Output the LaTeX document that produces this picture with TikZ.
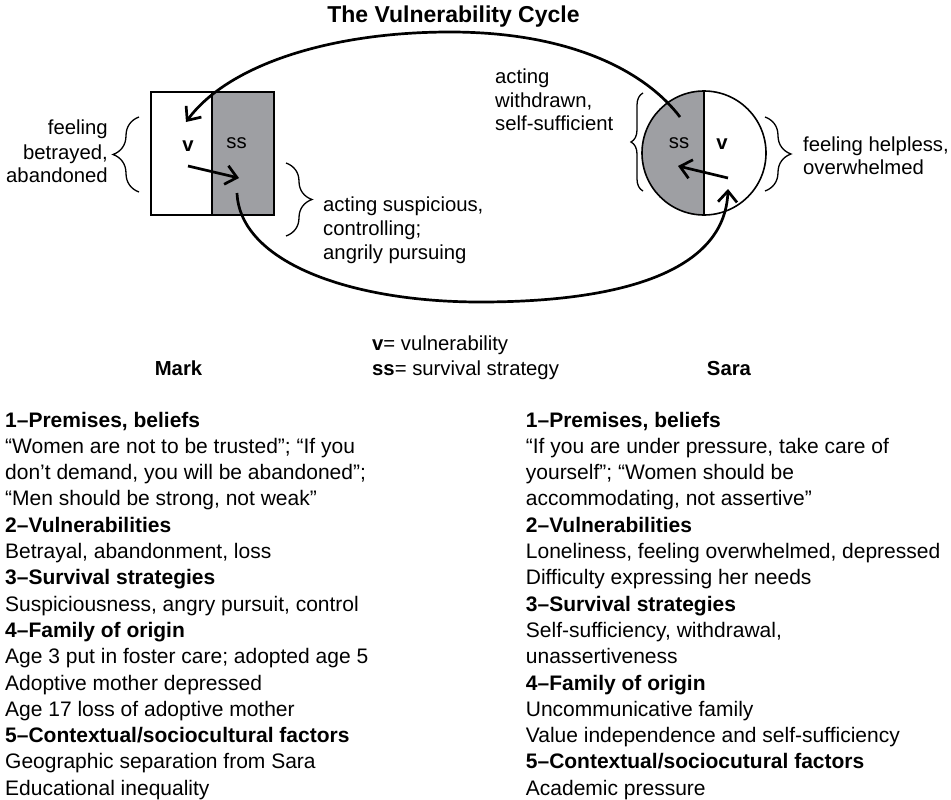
\documentclass[tikz,border=0pt]{standalone}
\usepackage{fontspec}
\setmainfont{Liberation Sans}
\usetikzlibrary{arrows.meta,decorations.pathreplacing}
\definecolor{ssgray}{RGB}{158,159,163}
\begin{document}
\begin{tikzpicture}[x=1pt,y=-1pt,
  body/.style={anchor=base west,inner sep=0pt,font=\fontsize{21}{26}\selectfont},
  lbl/.style={inner sep=0pt,font=\fontsize{20.3}{23.5}\selectfont},
  lblw/.style={lbl,anchor=base west},
  lble/.style={lbl,anchor=base east},
  cyc/.style={line width=2.7pt,-{Straight Barb[length=11pt,width=19pt]}},
  brc/.style={decorate,decoration={brace,amplitude=#1},line width=1.3pt},
  shapeline/.style={line width=1.6pt},
]
\useasboundingbox (0,0) rectangle (951,800);

% title
\node[anchor=base,inner sep=0pt,font=\bfseries\fontsize{23}{27}\selectfont] (title) at (453.5,22.7) {The Vulnerability Cycle};

% Mark box
\node[draw,shapeline,fill=white,minimum width=61pt,minimum height=123pt,inner sep=0pt] (mv) at (181.5,153.5) {};
\node[draw,shapeline,fill=ssgray,minimum width=62pt,minimum height=123pt,inner sep=0pt] (mss) at (243,153.5) {};
\node[lbl,anchor=base] (mvl) at (188,151.7) {\textbf{v}};
\node[lbl,anchor=base] (mssl) at (236.5,148.3) {ss};

% Sara circle
\node[circle,minimum size=124pt,inner sep=0pt] (sc) at (704,153) {};
\begin{scope}
  \clip (630,80) rectangle (704,230);
  \fill[ssgray] (sc.center) circle[radius=62pt];
\end{scope}
\draw[shapeline] (sc.center) circle[radius=62pt];
\draw[shapeline] (sc.north) -- (sc.south);
\node[lbl,anchor=base] (sssl) at (679,148.3) {ss};
\node[lbl,anchor=base] (svl) at (722,149) {\textbf{v}};

% inner arrows
\coordinate (ma1) at (188,166);
\coordinate (ma2) at (239,178);
\draw[cyc] (ma1) -- (ma2);
\coordinate (sa1) at (728,178);
\coordinate (sa2) at (678,166);
\draw[cyc] (sa1) -- (sa2);

% cycle
\coordinate (u1) at (680,117);
\coordinate (u2) at (186,122);
\draw[cyc] (u1) .. controls (645,71) and (570,32) .. (450,32) .. controls (330,32) and (228,65) .. (u2);
\coordinate (l1) at (237,193);
\coordinate (l2) at (728,189);
\draw[cyc] (l1) .. controls (240,262) and (350,302) .. (480,302) .. controls (630,302) and (725,268) .. (l2);

% braces
\draw[brc=26pt] (139,192) -- (139,117);
\draw[brc=26pt] (286,163) -- (286,236);
\draw[brc=12pt] (643,191) -- (643,93);
\draw[brc=26pt] (765,117) -- (765,191);

% diagram labels
\node[lble] (mf1) at (108,135) {feeling};
\node[lble] (mf2) at (108,159) {betrayed,};
\node[lble] (mf3) at (108,182.7) {abandoned};
\node[lblw] (ma1t) at (323,211.7) {acting suspicious,};
\node[lblw] (ma2t) at (323,235.5) {controlling;};
\node[lblw] (ma3t) at (323,259) {angrily pursuing};
\node[lblw] (sa1t) at (495,84) {acting};
\node[lblw] (sa2t) at (495,107) {withdrawn,};
\node[lblw] (sa3t) at (495,130) {self-sufficient};
\node[lblw] (sf1) at (803,151.7) {feeling helpless,};
\node[lblw] (sf2) at (803,174.5) {overwhelmed};

% legend
\node[lblw] (leg1) at (372,350.7) {\textbf{v}= vulnerability};
\node[lblw] (leg2) at (372,375) {\textbf{ss}= survival strategy};
\node[lbl,anchor=base,font=\bfseries\fontsize{20.3}{23.5}\selectfont] (mark) at (178.5,375) {Mark};
\node[lbl,anchor=base,font=\bfseries\fontsize{20.3}{23.5}\selectfont] (sara) at (729,375) {Sara};

% left column
\foreach \t [count=\i] in {
  {\textbf{1–Premises, beliefs}},
  {“Women are not to be trusted”; “If you},
  {don’t demand, you will be abandoned”;},
  {“Men should be strong, not weak”},
  {\textbf{2–Vulnerabilities}},
  {Betrayal, abandonment, loss},
  {\textbf{3–Survival strategies}},
  {Suspiciousness, angry pursuit, control},
  {\textbf{4–Family of origin}},
  {Age 3 put in foster care; adopted age 5},
  {Adoptive mother depressed},
  {Age 17 loss of adoptive mother},
  {\textbf{5–Contextual/sociocultural factors}},
  {Geographic separation from Sara},
  {Educational inequality}}
  \node[body] (ml\i) at (5,{427+(\i-1)*26.3}) {\t};

% right column
\foreach \t [count=\i] in {
  {\textbf{1–Premises, beliefs}},
  {“If you are under pressure, take care of},
  {yourself”; “Women should be},
  {accommodating, not assertive”},
  {\textbf{2–Vulnerabilities}},
  {Loneliness, feeling overwhelmed, depressed},
  {Difficulty expressing her needs},
  {\textbf{3–Survival strategies}},
  {Self-sufficiency, withdrawal,},
  {unassertiveness},
  {\textbf{4–Family of origin}},
  {Uncommunicative family},
  {Value independence and self-sufficiency},
  {\textbf{5–Contextual/sociocutural factors}},
  {Academic pressure}}
  \node[body] (sl\i) at (525.7,{427+(\i-1)*26.3}) {\t};
\end{tikzpicture}
\end{document}
